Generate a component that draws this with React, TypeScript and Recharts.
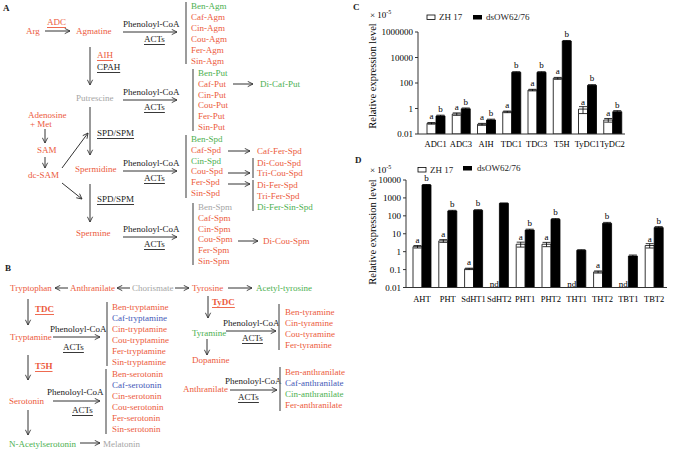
import React from 'react';
import { BarChart, Bar, XAxis, YAxis, ErrorBar, LabelList } from 'recharts';

// chart C: polyamine / tryptamine genes
const cGenes = ['ADC1', 'ADC3', 'AIH', 'TDC1', 'TDC3', 'T5H', 'TyDC1', 'TyDC2'];
const cZH17 = [0.069, 0.37, 0.058, 0.55, 28, 234, 0.9, 0.125];
const cZH17Err = [0.01, 0.08, 0.01, 0.08, 4, 40, 0.5, 0.04];
const cDsOW = [0.26, 0.95, 0.126, 690, 690, 196000, 66, 0.56];
const cDsOWErr = [0.04, 0.15, 0.02, 80, 80, 20000, 8, 0.12];
const cZH17Sig = ['a', 'a', 'a', 'a', 'a', 'a', 'a', 'a'];
const cDsOWSig = ['b', 'b', 'b', 'b', 'b', 'b', 'b', 'b'];
const cTicks = [0.01, 1, 100, 10000, 1000000];

// chart D: acyltransferase genes (null = nd)
const dGenes = ['AHT', 'PHT', 'SdHT1', 'SdHT2', 'PHT1', 'PHT2', 'THT1', 'THT2', 'TBT1', 'TBT2'];
const dZH17 = [1.9, 4.0, 0.11, null, 2.6, 2.6, null, 0.074, null, 2.2];
const dZH17Err = [0.3, 0.7, 0.01, null, 0.8, 0.7, null, 0.01, null, 0.6];
const dDsOW = [5300, 188, 204, 500, 16, 64, 1.2, 38, 0.57, 22];
const dDsOWErr = [300, 15, 15, 20, 2, 6, 0.08, 5, 0.08, 3];
const dZH17Sig = ['a', 'a', 'a', null, 'a', 'a', null, 'a', null, 'a'];
const dDsOWSig = ['b', 'b', 'b', null, 'b', 'b', null, 'b', null, 'b'];
const dTicks = [0.01, 0.1, 1, 10, 100, 1000, 10000];

const FONT = '"Liberation Serif", "Times New Roman", serif';
const R = '#ec5a3d';
const G = '#4cb050';
const GR = '#a5a5a5';
const BL = '#4459b8';
const K = '#222';

const buildRows = (genes: string[], w: any[], we: any[], b: any[], be: any[], ws: any[], bs: any[]) =>
  genes.map((gene, i) => ({ gene, zh: w[i], zhErr: we[i], ds: b[i], dsErr: be[i], zhSig: ws[i], dsSig: bs[i] }));

const cData = buildRows(cGenes, cZH17, cZH17Err, cDsOW, cDsOWErr, cZH17Sig, cDsOWSig);
const dData = buildRows(dGenes, dZH17, dZH17Err, dDsOW, dDsOWErr, dZH17Sig, dDsOWSig);

// x tick with the "nd" marker above the axis when ZH 17 was not detected
const makeTick = (genes: string[], white: any[], margin: number, base: number) => (props: any) => {
  const { x, y, payload } = props;
  const i = genes.indexOf(payload.value);
  const nd = i >= 0 && white[i] == null;
  return (
    <g>
      <text x={x} y={y + base} textAnchor="middle" fontSize={8.5} fontFamily={FONT} fill="#000">{payload.value}</text>
      {nd && <text x={x - 5} y={y - margin - 1} textAnchor="middle" fontSize={9} fontFamily={FONT} fill="#000">nd</text>}
    </g>
  );
};

// significance letter above each bar
const SigLabel = (props: any) => {
  const { x, y, width, value } = props;
  if (value == null || x == null || isNaN(y)) return null;
  return <text x={x + width / 2} y={y - 4} textAnchor="middle" fontSize={9} fontFamily={FONT} fill="#000">{value}</text>;
};

const ExprChart = ({ data, genes, white, ticks, domain, width, height, margin, yWidth, padLeft, tickMargin, base }: any) => (
  <BarChart width={width} height={height} data={data} margin={margin} barGap={0} barSize={9}>
    <XAxis dataKey="gene" interval={0} tickLine={false} tickSize={0} tickMargin={tickMargin} height={18}
      padding={{ left: padLeft, right: 0 }} axisLine={{ stroke: '#333' }}
      tick={makeTick(genes, white, tickMargin, base)} />
    <YAxis type="number" scale="log" domain={domain} ticks={ticks} interval={0} allowDataOverflow width={yWidth}
      tickFormatter={(v: number) => String(v)} tickSize={3} tickMargin={2}
      axisLine={{ stroke: '#333' }} tickLine={{ stroke: '#333' }}
      tick={{ fontSize: 9, fontFamily: FONT, fill: '#000' }} />
    <Bar dataKey="zh" fill="#fff" stroke="#000" strokeWidth={0.8} isAnimationActive={false}>
      <ErrorBar dataKey="zhErr" width={4} stroke="#000" strokeWidth={0.8} />
      <LabelList dataKey="zhSig" content={<SigLabel />} />
    </Bar>
    <Bar dataKey="ds" fill="#000" stroke="#000" strokeWidth={0.8} isAnimationActive={false}>
      <ErrorBar dataKey="dsErr" width={4} stroke="#000" strokeWidth={0.8} />
      <LabelList dataKey="dsSig" content={<SigLabel />} />
    </Bar>
  </BarChart>
);

const T = ({ x, y, c = K, u = false, b = false, children }: any) => (
  <text x={x} y={y} fill={c} dominantBaseline="central" fontWeight={b ? 'bold' : 'normal'}
    style={u ? { textDecoration: 'underline' } : undefined}>{children}</text>
);

const Arr = ({ x1, y1, x2, y2 }: any) => (
  <line x1={x1} y1={y1} x2={x2} y2={y2} stroke="#333" strokeWidth={1} markerEnd="url(#ah)" />
);

const VBar = ({ x, y1, y2 }: any) => <line x1={x} y1={y1} x2={x} y2={y2} stroke="#7a7a7a" strokeWidth={1.5} />;

const List = ({ x, y, step, items }: any) => (
  <>
    {items.map((it: any, i: number) => <T key={i} x={x} y={y + i * step} c={it[1]}>{it[0]}</T>)}
  </>
);

const Acts = ({ y, x = 123, ax = 144 }: any) => (
  <>
    <T x={x} y={y - 8}>Phenoloyl-CoA</T>
    <Arr x1={x} y1={y} x2={x + 54} y2={y} />
    <T x={ax} y={y + 7} u>ACTs</T>
  </>
);

const Pathways = () => (
  <svg width={675} height={452} style={{ position: 'absolute', left: 0, top: 0 }} fontFamily={FONT} fontSize={9}>
    <defs>
      <marker id="ah" viewBox="0 0 8 8" refX="7" refY="4" markerWidth="7" markerHeight="7" orient="auto" markerUnits="userSpaceOnUse">
        <path d="M1,1 L7,4 L1,7" fill="none" stroke="#333" strokeWidth={1} />
      </marker>
    </defs>

    {/* panel A */}
    <T x={3} y={8} b>A</T>
    <T x={26} y={31} c={R}>Arg</T>
    <T x={47} y={22} c={R} u>ADC</T>
    <Arr x1={45} y1={31} x2={70} y2={31} />
    <T x={76} y={31} c={R}>Agmatine</T>
    <Acts y={32} />
    <VBar x={186} y1={2} y2={64} />
    <List x={191} y={6} step={11} items={[['Ben-Agm', G], ['Caf-Agm', R], ['Cin-Agm', R], ['Cou-Agm', R], ['Fer-Agm', R], ['Sin-Agm', R]]} />
    <Arr x1={90} y1={47} x2={90} y2={85} />
    <T x={97} y={55} c={R} u>AIH</T>
    <T x={97} y={67} u>CPAH</T>
    <T x={76} y={98} c={GR}>Putrescine</T>
    <Acts y={100} />
    <VBar x={193} y1={69} y2={131} />
    <List x={198} y={73} step={10.8} items={[['Ben-Put', G], ['Caf-Put', R], ['Cin-Put', R], ['Cou-Put', R], ['Fer-Put', R], ['Sin-Put', R]]} />
    <Arr x1={233} y1={84} x2={253} y2={84} />
    <T x={260} y={84} c={G}>Di-Caf-Put</T>
    <T x={28} y={115} c={R}>Adenosine</T>
    <T x={30} y={124} c={R}>+ Met</T>
    <Arr x1={45} y1={129} x2={45} y2={143} />
    <T x={37} y={150} c={R}>SAM</T>
    <Arr x1={45} y1={157} x2={45} y2={168} />
    <T x={28} y={175} c={R}>dc-SAM</T>
    <Arr x1={62} y1={168} x2={88} y2={133} />
    <T x={97} y={133} u>SPD/SPM</T>
    <Arr x1={90} y1={107} x2={90} y2={155} />
    <T x={75} y={169} c={R}>Spermidine</T>
    <Acts y={171} />
    <VBar x={186} y1={135} y2={198} />
    <List x={191} y={139} step={10.8} items={[['Ben-Spd', G], ['Caf-Spd', R], ['Cin-Spd', G], ['Cou-Spd', R], ['Fer-Spd', R], ['Sin-Spd', R]]} />
    <Arr x1={228} y1={151} x2={250} y2={151} />
    <T x={257} y={151} c={R}>Caf-Fer-Spd</T>
    <VBar x={253} y1={158} y2={178} />
    <T x={257} y={163} c={R}>Di-Cou-Spd</T>
    <T x={257} y={173} c={R}>Tri-Cou-Spd</T>
    <Arr x1={228} y1={173} x2={250} y2={173} />
    <VBar x={253} y1={180} y2={211} />
    <T x={257} y={185} c={R}>Di-Fer-Spd</T>
    <T x={257} y={196} c={R}>Tri-Fer-Spd</T>
    <T x={257} y={207} c={G}>Di-Fer-Sin-Spd</T>
    <Arr x1={228} y1={184} x2={250} y2={184} />
    <Arr x1={62} y1={183} x2={82} y2={199} />
    <T x={97} y={199} u>SPD/SPM</T>
    <Arr x1={90} y1={184} x2={90} y2={222} />
    <T x={76} y={233} c={R}>Spermine</T>
    <Acts y={237} />
    <VBar x={193} y1={203} y2={265} />
    <List x={198} y={207} step={10.8} items={[['Ben-Spm', GR], ['Caf-Spm', R], ['Cin-Spm', R], ['Cou-Spm', R], ['Fer-Spm', R], ['Sin-Spm', R]]} />
    <Arr x1={238} y1={241} x2={258} y2={241} />
    <T x={263} y={241} c={R}>Di-Cou-Spm</T>

    {/* panel B */}
    <T x={5} y={268} b>B</T>
    <T x={10} y={288} c={R}>Tryptophan</T>
    <Arr x1={68} y1={288} x2={55} y2={288} />
    <T x={70} y={288} c={R}>Anthranilate</T>
    <Arr x1={130} y1={288} x2={117} y2={288} />
    <T x={132} y={288} c={GR}>Chorismate</T>
    <Arr x1={175} y1={288} x2={189} y2={288} />
    <T x={192} y={288} c={R}>Tyrosine</T>
    <Arr x1={228} y1={288} x2={252} y2={288} />
    <T x={256} y={288} c={G}>Acetyl-tyrosine</T>

    <Arr x1={28} y1={299} x2={28} y2={325} />
    <T x={35} y={309} c={R} u b>TDC</T>
    <T x={10} y={337} c={R}>Tryptamine</T>
    <T x={50} y={329}>Phenoloyl-CoA</T>
    <Arr x1={53} y1={337} x2={100} y2={337} />
    <T x={63} y={347} u>ACTs</T>
    <VBar x={107} y1={302} y2={366} />
    <List x={112} y={307} step={11} items={[['Ben-tryptamine', R], ['Caf-tryptamine', BL], ['Cin-tryptamine', R], ['Cou-tryptamine', R], ['Fer-tryptamine', R], ['Sin-tryptamine', R]]} />
    <Arr x1={28} y1={355} x2={28} y2={380} />
    <T x={35} y={366} c={R} u b>T5H</T>
    <T x={9} y={401} c={R}>Serotonin</T>
    <T x={47} y={392}>Phenoloyl-CoA</T>
    <Arr x1={53} y1={401} x2={100} y2={401} />
    <T x={72} y={410} u>ACTs</T>
    <VBar x={106} y1={369} y2={434} />
    <List x={112} y={374} step={11} items={[['Ben-serotonin', R], ['Caf-serotonin', BL], ['Cin-serotonin', R], ['Cou-serotonin', R], ['Fer-serotonin', R], ['Sin-serotonin', R]]} />
    <Arr x1={28} y1={410} x2={28} y2={435} />
    <T x={9} y={444} c={G}>N-Acetylserotonin</T>
    <Arr x1={80} y1={443} x2={100} y2={443} />
    <T x={103} y={444} c={GR}>Melatonin</T>

    <Arr x1={208} y1={296} x2={208} y2={318} />
    <T x={212} y={302} c={R} u b>TyDC</T>
    <T x={192} y={333} c={G}>Tyramine</T>
    <T x={223} y={323}>Phenoloyl-CoA</T>
    <Arr x1={226} y1={331} x2={276} y2={331} />
    <T x={242} y={338} u>ACTs</T>
    <VBar x={279} y1={304} y2={350} />
    <List x={285} y={312} step={11} items={[['Ben-tyramine', R], ['Cin-tyramine', R], ['Cou-tyramine', R], ['Fer-tyramine', R]]} />
    <Arr x1={207} y1={339} x2={207} y2={355} />
    <T x={192} y={360} c={R}>Dopamine</T>
    <T x={183} y={389} c={R}>Anthranilate</T>
    <T x={225} y={381}>Phenoloyl-CoA</T>
    <Arr x1={230} y1={390} x2={277} y2={390} />
    <T x={238} y={397} u>ACTs</T>
    <VBar x={280} y1={367} y2={411} />
    <List x={285} y={372} step={11} items={[['Ben-anthranilate', R], ['Caf-anthranilate', BL], ['Cin-anthranilate', G], ['Fer-anthranilate', R]]} />

    {/* chart headers, legends, axis titles */}
    <T x={353} y={7} b>C</T>
    <text x={370} y={18} fill="#000">× 10<tspan dy={-4} fontSize={6}>-5</tspan></text>
    <rect x={427} y={15} width={8} height={4.5} fill="#fff" stroke="#000" strokeWidth={0.8} />
    <T x={439} y={17}>ZH 17</T>
    <rect x={473} y={15} width={9} height={4.5} fill="#000" />
    <T x={486} y={17}>dsOW62/76</T>
    <text transform="rotate(-90 372 76)" x={372} y={76} textAnchor="middle" dominantBaseline="central" fontSize={10.5} fill="#000">Relative expression level</text>

    <T x={355} y={160} b>D</T>
    <text x={370} y={173} fill="#000">× 10<tspan dy={-4} fontSize={6}>-5</tspan></text>
    <rect x={418} y={167.5} width={8} height={4.5} fill="#fff" stroke="#000" strokeWidth={0.8} />
    <T x={430} y={170}>ZH 17</T>
    <rect x={463} y={166} width={9} height={4.5} fill="#000" />
    <T x={477} y={168}>dsOW62/76</T>
    <text transform="rotate(-90 372 232)" x={372} y={232} textAnchor="middle" dominantBaseline="central" fontSize={10.5} fill="#000">Relative expression level</text>
  </svg>
);

export default function App() {
  return (
    <div style={{ position: 'absolute', left: 0, top: 0, width: 675, height: 452, background: '#fff', overflow: 'hidden' }}>
      <Pathways />
      <div style={{ position: 'absolute', left: 340, top: 0 }}>
        <ExprChart data={cData} genes={cGenes} white={cZH17} ticks={cTicks} domain={[0.01, 1000000]}
          width={290} height={160} margin={{ top: 32, right: 5, bottom: 8, left: 0 }} yWidth={78}
          padLeft={5} tickMargin={5} base={7.5} />
      </div>
      <div style={{ position: 'absolute', left: 330, top: 150 }}>
        <ExprChart data={dData} genes={dGenes} white={dZH17} ticks={dTicks} domain={[0.01, 10000]}
          width={340} height={160} margin={{ top: 30, right: 3, bottom: 4.5, left: 0 }} yWidth={76}
          padLeft={3} tickMargin={6} base={8} />
      </div>
    </div>
  );
}
